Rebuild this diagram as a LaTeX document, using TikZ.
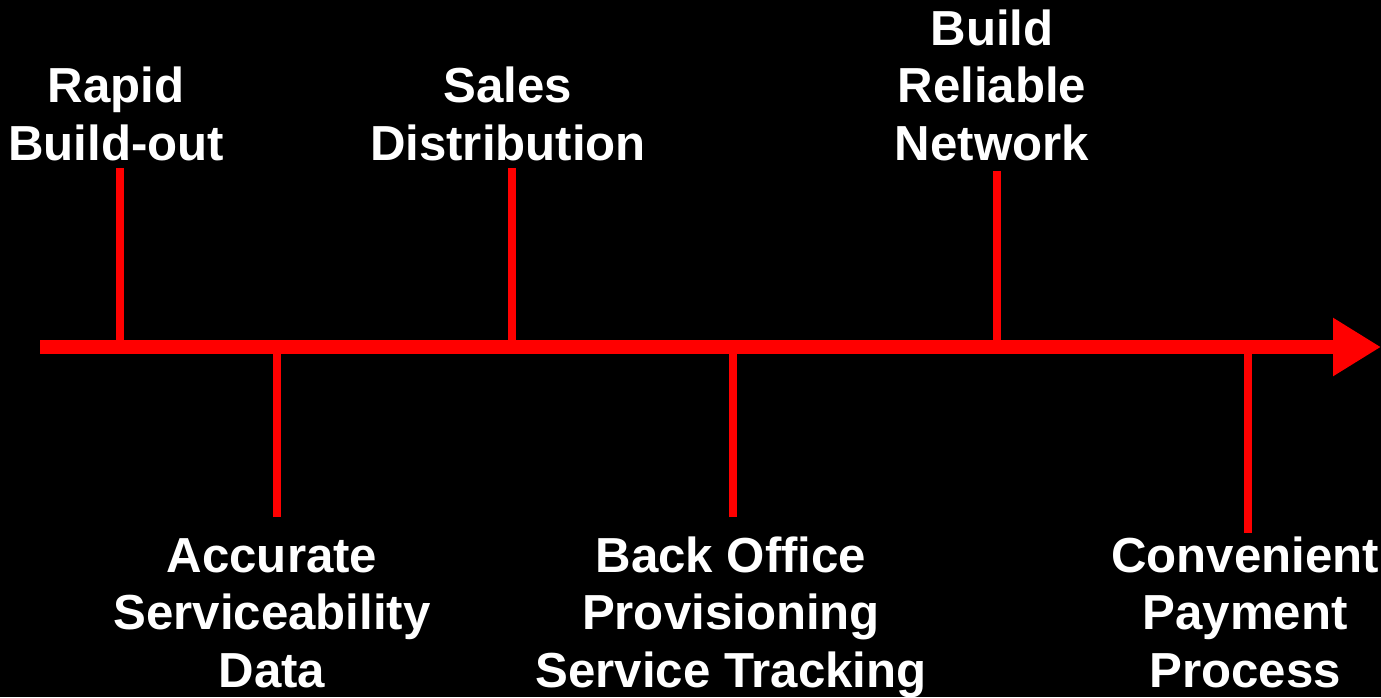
\documentclass[tikz,border=0pt]{standalone}
\usepackage{fontspec}
\setmainfont{Liberation Sans}
\usetikzlibrary{arrows.meta}

\begin{document}
\begin{tikzpicture}[x=0.02cm,y=-0.02cm,
        milestone/.style={text=white,font=\bfseries\fontsize{28}{32.6}\selectfont,
            align=center,anchor=base,inner sep=0pt},
        tick/.style={draw=red,line width=0.16cm},
        axis/.style={draw=red,line width=0.28cm,-{Triangle[length=0.96cm,width=1.1cm]}}]

        	\useasboundingbox (0,0) rectangle (1381,697);
        	\fill[black] (0,0) rectangle (1381,697);

        	% time line
        	\coordinate (start) at (40,347);
        	\coordinate (end) at (1381,347);
        	\draw[axis] (start) -- (end);

        	% milestones above the line (base = last line)
        	\node[milestone] (rapid) at (116,160) {Rapid\\Build-out};
        	\node[milestone] (sales) at (508,160) {Sales\\Distribution};
        	\node[milestone] (network) at (992,160) {Build\\Reliable\\Network};

        	% milestones below the line
        	\node[milestone] (accurate) at (272,687) {Accurate\\Serviceability\\Data};
        	\node[milestone] (office) at (731,687) {Back Office\\Provisioning\\Service Tracking};
        	\node[milestone] (payment) at (1245,687) {Convenient\\Payment\\Process};

        	% tick ends
        	\coordinate (rapid tick) at (120,168);
        	\coordinate (sales tick) at (512,168);
        	\coordinate (network tick) at (997,171);
        	\coordinate (accurate tick) at (277,517);
        	\coordinate (office tick) at (733,517);
        	\coordinate (payment tick) at (1248,533);

        	\path[tick] (rapid tick) edge (rapid tick |- start);
        	\path[tick] (sales tick) edge (sales tick |- start);
            \path[tick] (network tick) edge (network tick |- start);
            \path[tick] (accurate tick) edge (accurate tick |- start);
            \path[tick] (office tick) edge (office tick |- start);
            \path[tick] (payment tick) edge (payment tick |- start);

        	\end{tikzpicture}
\end{document}
